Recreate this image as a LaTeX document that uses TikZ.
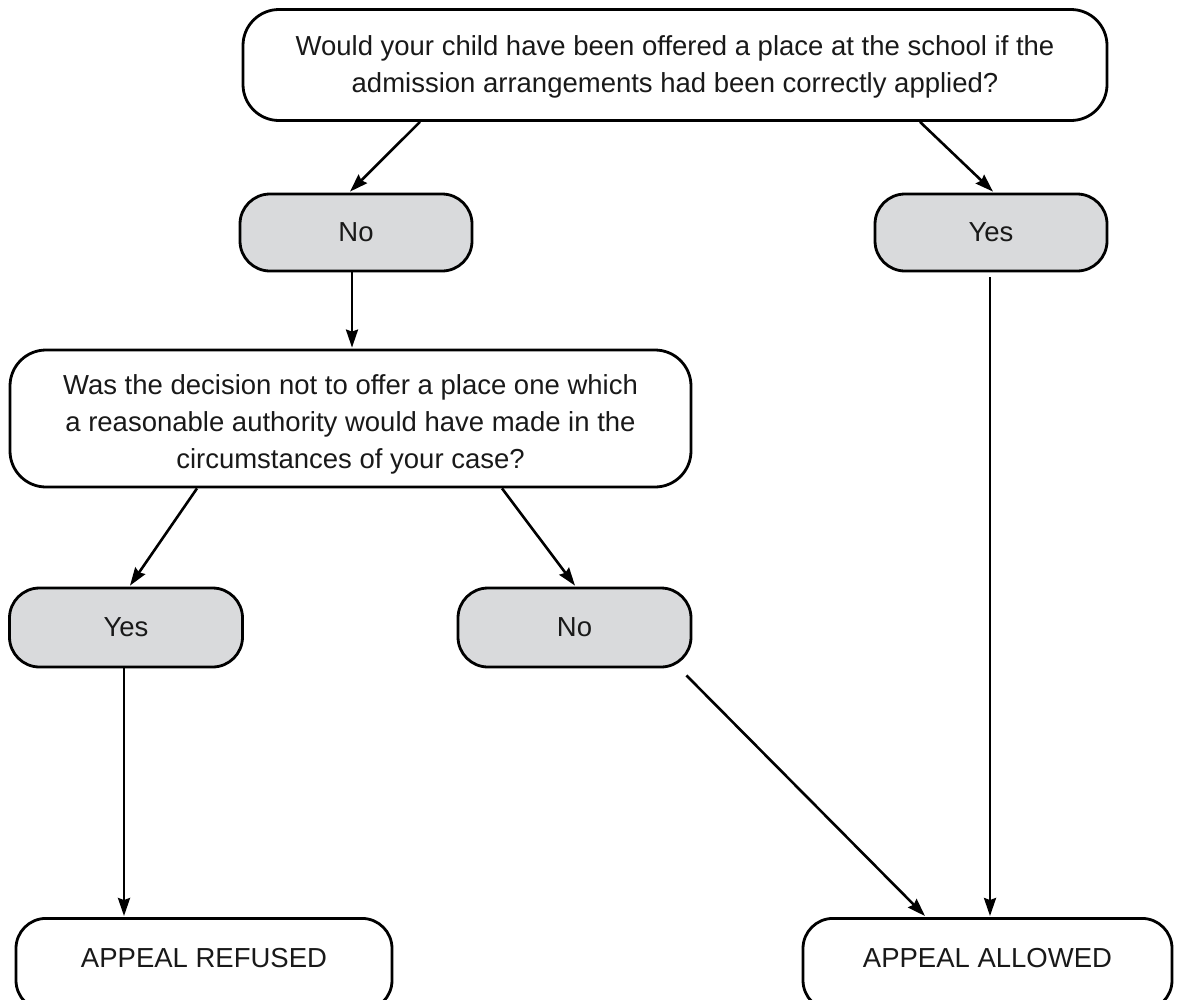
\documentclass[tikz,border=0pt]{standalone}
\usepackage{fontspec}
\setmainfont{Liberation Sans}
\usetikzlibrary{arrows.meta,calc}
\definecolor{boxgray}{HTML}{D9DADC}
\tikzset{
  box/.style={draw=black, line width=2.8pt, rounded corners=30pt, align=center,
    inner sep=0pt, font=\fontsize{27.5}{37}\selectfont, text=black!90},
  grey/.style={box, fill=boxgray},
  endbox/.style={box, anchor=north, minimum height=92pt},
  arr/.style={line width=2.6pt, -{Stealth[length=18pt,width=12pt,inset=2pt]}}
}
\begin{document}
\begin{tikzpicture}[x=1pt,y=-1pt]
\useasboundingbox (0,0) rectangle (1177,999);
\node[box, minimum width=864pt, minimum height=111pt, rounded corners=36pt] (q1) at (675,65)
  {\rule{0pt}{24pt}Would your child have been offered a place at the school if the\\admission arrangements had been correctly applied?};
\node[grey, minimum width=232pt, minimum height=77pt] (no1) at (356,232.5) {No};
\node[grey, minimum width=232pt, minimum height=77pt] (yes1) at (991,232.5) {Yes};
\node[box, minimum width=681pt, minimum height=137pt, rounded corners=36pt] (q2) at (350.5,418.5)
  {\rule{0pt}{32pt}Was the decision not to offer a place one which\\a reasonable authority would have made in the\\circumstances of your case?};
\node[grey, minimum width=233pt, minimum height=79pt] (yes2) at (126,627.5) {Yes};
\node[grey, minimum width=233pt, minimum height=79pt] (no2) at (574.5,627.5) {No};
\node[endbox, minimum width=376pt] (ref) at (204,917) {APPEAL REFUSED\rule[-14pt]{0pt}{0pt}};
\node[endbox, minimum width=369pt] (all) at (987.5,917) {APPEAL ALLOWED\rule[-14pt]{0pt}{0pt}};

\draw[arr] ([xshift=-255pt]q1.south) -- ([xshift=-6pt,yshift=1pt]no1.north);
\draw[arr] ([xshift=245pt]q1.south) -- ([xshift=2pt,yshift=1pt]yes1.north);
\draw[arr] ([xshift=-4pt]no1.south) -- ([xshift=-4pt,yshift=1pt]no1.south |- q2.north);
\draw[arr] ([xshift=-153.5pt]q2.south) -- ([xshift=4pt,yshift=1pt]yes2.north);
\draw[arr] ([xshift=151.5pt]q2.south) -- ([xshift=0.5pt,yshift=1pt]no2.north);
\draw[arr] ([xshift=-2pt]yes2.south) -- ([xshift=-2pt,yshift=1pt]yes2.south |- ref.north);
\draw[arr] ([xshift=-6pt,yshift=-7pt]no2.south east) -- ([xshift=-62.5pt,yshift=1pt]all.north);
\draw[arr,shorten <=5pt] ([xshift=-1pt]yes1.south) -- ([xshift=-1pt,yshift=1pt]yes1.south |- all.north);
\end{tikzpicture}
\end{document}
